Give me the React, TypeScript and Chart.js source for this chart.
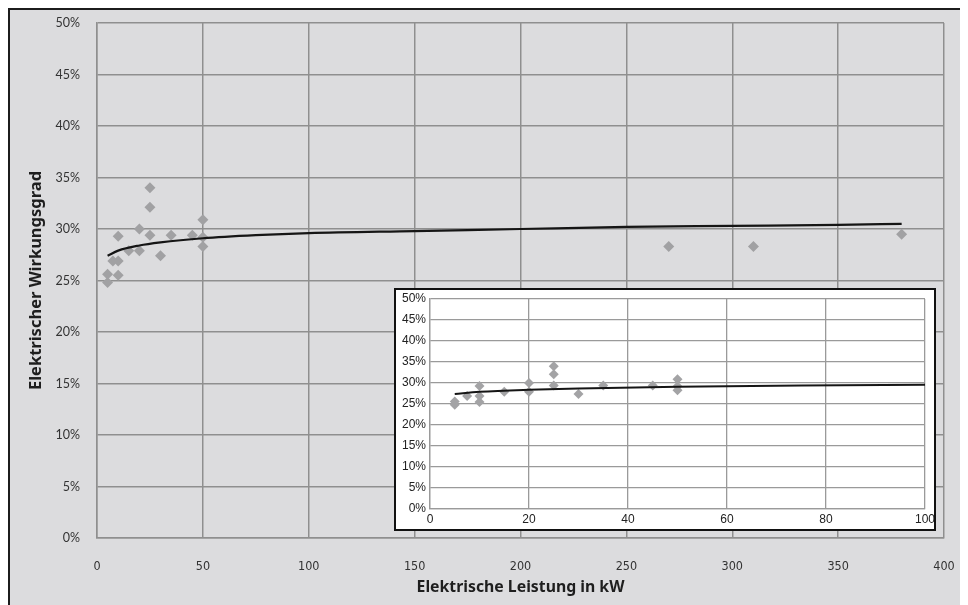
import React, { useEffect, useRef } from 'react';
import { Chart, registerables } from 'chart.js';

Chart.register(...registerables);

// Measured plants: electrical output (kW) and electrical efficiency (%)
const powerKW = [5, 5, 7.5, 10, 10, 10, 15, 20, 20, 25, 25, 25, 30, 35, 45, 50, 50, 50, 270, 310, 380];
const efficiencyPct = [24.8, 25.6, 26.9, 26.9, 25.5, 29.3, 27.9, 30.0, 27.9, 34.0, 32.1, 29.4, 27.4, 29.4, 29.4, 30.9, 29.2, 28.3, 28.3, 28.3, 29.5];

// Trend line
const trendKW = [5, 10, 20, 30, 50, 75, 100, 150, 200, 250, 300, 350, 380];
const trendPct = [27.4, 27.9, 28.4, 28.7, 29.1, 29.4, 29.6, 29.8, 30.0, 30.2, 30.3, 30.4, 30.5];

const mainXMax = 400;
const mainXStep = 50;
const insetXMax = 100;
const insetXStep = 20;
const yMax = 50;
const yStep = 5;

const xTitle = 'Elektrische Leistung in kW';
const yTitle = 'Elektrischer Wirkungsgrad';

const pts = (xs: number[], ys: number[], maxX: number) =>
  xs.map((x, i) => ({ x, y: ys[i] })).filter((p) => p.x <= maxX);

const noPadX = (h: number) => (s: any) => {
  s.height = h;
  s.paddingLeft = 0;
  s.paddingRight = 0;
};
const noPadY = (w: number) => (s: any) => {
  s.width = w;
  s.paddingTop = 0;
  s.paddingBottom = 0;
};

function MainChart() {
  const ref = useRef<HTMLCanvasElement | null>(null);
  useEffect(() => {
    if (!ref.current) return;
    const gridColor = '#8f8f8f';
    const chart = new Chart(ref.current, {
      type: 'scatter',
      data: {
        datasets: [
          {
            data: pts(trendKW, trendPct, mainXMax),
            showLine: true,
            borderColor: '#151515',
            borderWidth: 2.2,
            pointRadius: 0,
            cubicInterpolationMode: 'monotone',
            fill: false,
          },
          {
            data: pts(powerKW, efficiencyPct, mainXMax),
            pointStyle: 'rectRot',
            pointRadius: 5.5,
            backgroundColor: '#a1a1a3',
            borderWidth: 0,
          },
        ],
      },
      options: {
        responsive: false,
        animation: false,
        layout: { padding: { left: 0, top: 15, right: 24, bottom: 0 } },
        plugins: { legend: { display: false }, tooltip: { enabled: false } },
        scales: {
          x: {
            type: 'linear',
            min: 0,
            max: mainXMax,
            afterFit: noPadX(67),
            ticks: {
              stepSize: mainXStep,
              padding: 21,
              color: '#333',
              font: { family: "'Liberation Sans Narrow', 'DejaVu Sans Condensed', 'Roboto'", size: 12.5 },
            },
            grid: { color: gridColor, lineWidth: 1.5, drawTicks: false },
            border: { color: gridColor, width: 1.5 },
            title: {
              display: true,
              text: xTitle,
              color: '#1e1e1e',
              padding: { top: 0, bottom: 8 },
              font: { family: "'Noto Sans', 'DejaVu Sans', sans-serif", size: 15.8, weight: 'bold' },
            },
          },
          y: {
            type: 'linear',
            min: 0,
            max: yMax,
            afterFit: noPadY(89),
            ticks: {
              stepSize: yStep,
              padding: 17,
              color: '#333',
              callback: (v: any) => `${v}%`,
              font: { family: "'Lato', 'Noto Sans', sans-serif", size: 12.5 },
            },
            grid: { color: gridColor, lineWidth: 1.5, drawTicks: false },
            border: { color: gridColor, width: 1.5 },
            title: {
              display: true,
              text: yTitle,
              color: '#1e1e1e',
              padding: { top: 18, bottom: 0 },
              font: { family: "'Noto Sans', 'DejaVu Sans', sans-serif", size: 16.5, weight: 'bold' },
            },
          },
        },
      },
    } as any);
    return () => chart.destroy();
  }, []);
  return <canvas ref={ref} width={960} height={597} style={{ position: 'absolute', left: 0, top: 0, width: 960, height: 597 }} />;
}

function InsetChart() {
  const ref = useRef<HTMLCanvasElement | null>(null);
  useEffect(() => {
    if (!ref.current) return;
    const gridColor = '#9a9a9a';
    const chart = new Chart(ref.current, {
      type: 'scatter',
      data: {
        datasets: [
          {
            data: pts(trendKW, trendPct, insetXMax),
            showLine: true,
            borderColor: '#151515',
            borderWidth: 2,
            pointRadius: 0,
            cubicInterpolationMode: 'monotone',
            fill: false,
          },
          {
            data: pts(powerKW, efficiencyPct, insetXMax),
            pointStyle: 'rectRot',
            pointRadius: 5,
            backgroundColor: '#a3a3a5',
            borderWidth: 0,
          },
        ],
      },
      options: {
        responsive: false,
        animation: false,
        layout: { padding: { left: 0, top: 9, right: 9, bottom: 0 } },
        plugins: { legend: { display: false }, tooltip: { enabled: false } },
        scales: {
          x: {
            type: 'linear',
            min: 0,
            max: insetXMax,
            afterFit: noPadX(20),
            ticks: {
              stepSize: insetXStep,
              padding: 3,
              color: '#222',
              font: { family: "'Liberation Sans', Arial, sans-serif", size: 12 },
            },
            grid: { color: gridColor, lineWidth: 1.3, drawTicks: false },
            border: { color: gridColor, width: 1.3 },
          },
          y: {
            type: 'linear',
            min: 0,
            max: yMax,
            afterFit: noPadY(34),
            ticks: {
              stepSize: yStep,
              padding: 4,
              color: '#222',
              callback: (v: any) => `${v}%`,
              font: { family: "'Liberation Sans', Arial, sans-serif", size: 12 },
            },
            grid: { color: gridColor, lineWidth: 1.3, drawTicks: false },
            border: { color: gridColor, width: 1.3 },
          },
        },
      },
    } as any);
    return () => chart.destroy();
  }, []);
  return <canvas ref={ref} width={538} height={239} style={{ position: 'absolute', left: 0, top: 0, width: 538, height: 239 }} />;
}

export default function App() {
  useEffect(() => {
    document.body.style.overflow = 'hidden';
    document.documentElement.style.overflow = 'hidden';
  }, []);
  return (
    <div style={{ position: 'relative', width: 960, height: 597, background: '#dcdcde', overflow: 'hidden' }}>
      <MainChart />
      <div
        style={{
          position: 'absolute',
          left: 0,
          top: 0,
          right: 0,
          bottom: 0,
          borderTop: '2px solid #1c1c1c',
          borderLeft: '2px solid #1c1c1c',
          pointerEvents: 'none',
        }}
      />
      <div
        style={{
          position: 'absolute',
          left: 386,
          top: 280,
          width: 542,
          height: 243,
          boxSizing: 'border-box',
          border: '2px solid #111',
          background: '#ffffff',
        }}
      >
        <InsetChart />
      </div>
    </div>
  );
}
